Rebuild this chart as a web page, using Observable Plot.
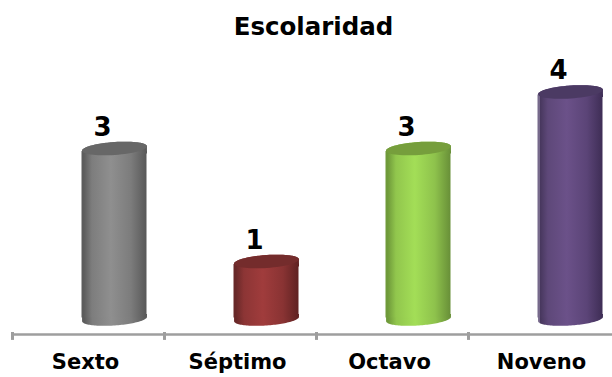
<!DOCTYPE html>
<html lang="es">
<head>
<meta charset="utf-8">
<title>Escolaridad</title>
<script src="https://cdn.jsdelivr.net/npm/d3@7"></script>
<script src="https://cdn.jsdelivr.net/npm/@observablehq/plot@0.6"></script>
<style>
  html, body { margin: 0; padding: 0; background: #fff; }
  svg { display: block; }
</style>
</head>
<body>
<div id="chart"></div>
<script>
const chartTitle = "Escolaridad";
const grados = ["Sexto", "Séptimo", "Octavo", "Noveno"];
const alumnos = [3, 1, 3, 4];

// Cylinder shading: outer rim, side edge, centre highlight, far edge, lid colour.
const rims = ["#5c5c5c", "#682828", "#6f9a3a", "#76698b"];
const edgeLeft = ["#5c5c5c", "#682828", "#6f9a3a", "#46365c"];
const highlight = ["#8f8f8f", "#a03c3c", "#a3de57", "#6b5189"];
const edgeRight = ["#585858", "#5f2222", "#688f38", "#3e2d55"];
const lids = ["#676767", "#742c2c", "#769e3c", "#4b3a63"];

const filas = grados.map((grado, i) => ({
  grado,
  valor: alumnos[i],
  cuerpo: `url(#cilindro${i})`,
  tapa: lids[i]
}));

const shift = 26;
const barInset = 43.5;
const radius = 32.5;
const fontFamily = "'DejaVu Sans', Verdana, sans-serif";

// Flattened, slightly tilted ellipse; `part` picks the whole outline or one
// arc closed by a small box that overlaps the straight side of the cylinder.
function ellipse(part) {
  return {
    draw(context, size) {
      const rx = Math.sqrt(size / Math.PI);
      const ry = rx * 0.2;
      const tilt = -4 * Math.PI / 180;
      const steps = 60;
      const from = part === "upper" ? Math.PI : 0;
      const span = part === "whole" ? 2 * Math.PI : Math.PI;
      for (let k = 0; k <= steps; ++k) {
        const t = from + (span * k) / steps;
        const ex = rx * Math.cos(t);
        const ey = ry * Math.sin(t);
        const px = ex * Math.cos(tilt) - ey * Math.sin(tilt);
        const py = ex * Math.sin(tilt) + ey * Math.cos(tilt);
        if (k === 0) context.moveTo(px, py);
        else context.lineTo(px, py);
      }
      if (part === "lower") {
        context.lineTo(-rx, -5);
        context.lineTo(rx, -5);
      } else if (part === "upper") {
        context.lineTo(rx, 5);
        context.lineTo(-rx, 5);
      }
      context.closePath();
    }
  };
}

// Horizontal gradients that give the bars their round look.
function gradients() {
  const defs = d3.create("svg:defs");
  grados.forEach((_, i) => {
    const g = defs.append("linearGradient")
      .attr("id", `cilindro${i}`)
      .attr("x1", 0).attr("x2", 1).attr("y1", 0).attr("y2", 0);
    const stops = [
      ["0%", rims[i]],
      ["3.5%", rims[i]],
      ["3.5%", edgeLeft[i]],
      ["16%", d3.interpolateRgb(edgeLeft[i], highlight[i])(0.65)],
      ["45%", highlight[i]],
      ["76%", d3.interpolateRgb(edgeRight[i], highlight[i])(0.65)],
      ["100%", edgeRight[i]]
    ];
    for (const [offset, color] of stops) {
      g.append("stop").attr("offset", offset).attr("stop-color", color);
    }
  });
  return defs.node();
}

const plot = Plot.plot({
  width: 612,
  height: 377,
  marginTop: 91.5,
  marginBottom: 59.5,
  marginLeft: 12,
  marginRight: -8,
  style: { background: "#fff", overflow: "hidden" },
  color: { type: "identity" },
  x: { type: "band", domain: grados, padding: 0, label: null },
  y: { domain: [0, 4], axis: null, label: null },
  marks: [
    gradients,
    Plot.text([chartTitle], {
      frameAnchor: "top",
      dy: -74,
      dx: -3,
      fontSize: 24.5,
      fontWeight: "bold",
      fontFamily,
      fill: "#000"
    }),
    // Baseline with separators between the categories.
    Plot.ruleY([0], { dy: 16.5, stroke: "#9e9e9e", strokeWidth: 2.5 }),
    Plot.ruleX(grados, {
      x: d => d,
      y1: 0,
      y2: -0.14,
      dx: -76,
      dy: 14.5,
      stroke: "#9e9e9e",
      strokeWidth: 3
    }),
    // Cylinder: bottom end, side, collar under the lid, then the lid itself.
    Plot.dot(filas, {
      x: "grado", y: () => 0, r: radius, dx: shift, dy: 1,
      symbol: ellipse("lower"), fill: "cuerpo", stroke: "none"
    }),
    Plot.barY(filas, {
      x: "grado", y: "valor", fill: "cuerpo", dx: shift,
      insetLeft: barInset, insetRight: barInset, insetTop: 3
    }),
    Plot.dot(filas, {
      x: "grado", y: "valor", r: radius, dx: shift,
      symbol: ellipse("upper"), fill: "cuerpo", stroke: "none"
    }),
    Plot.dot(filas, {
      x: "grado", y: "valor", r: radius, dx: shift,
      symbol: ellipse("whole"), fill: "tapa", stroke: "none"
    }),
    Plot.text(filas, {
      x: "grado", y: "valor", text: d => String(d.valor),
      dx: 14, dy: -21,
      fontSize: 26, fontWeight: "bold", fontFamily, fill: "#000"
    }),
    Plot.axisX({
      domain: grados,
      tickSize: 0,
      tickPadding: 36,
      dx: -3,
      label: null,
      fontSize: 21,
      fontWeight: "bold",
      fontFamily,
      fill: "#000"
    })
  ]
});

document.getElementById("chart").appendChild(plot);
</script>
</body>
</html>
